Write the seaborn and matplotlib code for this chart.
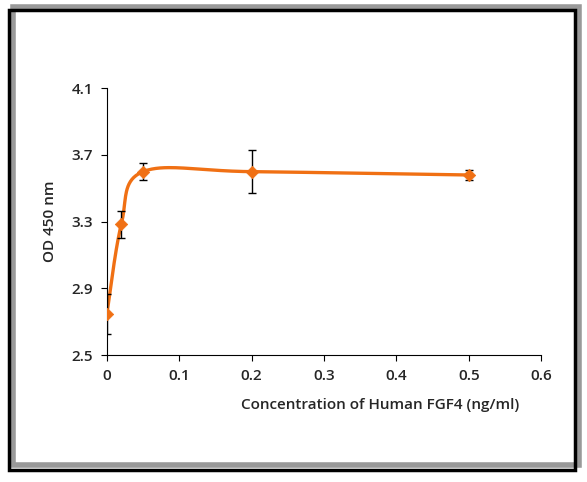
import matplotlib
matplotlib.use("Agg")
import matplotlib.pyplot as plt
import matplotlib.patches as mpatches
import numpy as np
import seaborn as sns

conc = [0, 0.02, 0.05, 0.2, 0.5]
od = [2.746, 3.285, 3.60, 3.60, 3.58]
err = [0.12, 0.08, 0.05, 0.13, 0.03]

sns.set_style("white")
plt.rcParams['font.family'] = ['Open Sans', 'DejaVu Sans']
orange = "#F07014"

def smooth(x, y, n=40):
    # Excel-like smoothed line (Catmull-Rom)
    x = np.asarray(x, float); y = np.asarray(y, float)
    px = np.concatenate([[x[0]], x, [x[-1]]]); py = np.concatenate([[y[0]], y, [y[-1]]])
    xs, ys = [], []
    for i in range(1, len(px) - 2):
        t = np.linspace(0, 1, n)
        for p, out in ((px, xs), (py, ys)):
            p0, p1, p2, p3 = p[i - 1], p[i], p[i + 1], p[i + 2]
            c1 = p1 + (p2 - p0) / 6
            c2 = p2 - (p3 - p1) / 6
            out.extend((1 - t) ** 3 * p1 + 3 * (1 - t) ** 2 * t * c1 + 3 * (1 - t) * t ** 2 * c2 + t ** 3 * p2)
    return np.array(xs), np.array(ys)

fig = plt.figure(figsize=(5.87, 4.82), dpi=100)
ax = fig.add_axes([0.182, 0.263, 0.740, 0.554])

sx, sy = smooth(conc, od)
sns.lineplot(x=sx, y=sy, ax=ax, color=orange, linewidth=2.4, sort=False)
ax.errorbar(conc, od, yerr=err, fmt="none", ecolor="black", elinewidth=1, capsize=3)
sns.scatterplot(x=conc, y=od, ax=ax, marker="D", color=orange, s=40, edgecolor=orange, zorder=3)

ax.set_xlim(0, 0.6)
ax.set_ylim(2.5, 4.1)
ax.set_xticks(np.arange(0, 0.61, 0.1))
ax.set_xticklabels(["0", "0.1", "0.2", "0.3", "0.4", "0.5", "0.6"])
ax.set_yticks([2.5, 2.9, 3.3, 3.7, 4.1])
ax.tick_params(direction="out", length=4, color="black", labelsize=11, pad=6, left=True, bottom=True)
for lab in ax.get_xticklabels() + ax.get_yticklabels():
    lab.set_fontweight("semibold")
for s in ["top", "right"]:
    ax.spines[s].set_visible(False)
for s in ["left", "bottom"]:
    ax.spines[s].set_color("black")
ax.set_xlabel("Concentration of Human FGF4 (ng/ml)", fontsize=11, fontweight="semibold")
ax.xaxis.set_label_coords(0.63, -0.16)
ax.set_ylabel("OD 450 nm", fontsize=11, fontweight="semibold", labelpad=10)

fig.patches.append(mpatches.Rectangle((0.022, 0.035), 0.965, 0.950, transform=fig.transFigure,
                                      fill=False, edgecolor="#999999", linewidth=4))
fig.patches.append(mpatches.Rectangle((0.015, 0.025), 0.965, 0.955, transform=fig.transFigure,
                                      fill=False, edgecolor="black", linewidth=2.5))
fig.savefig("out.png", dpi=100)
